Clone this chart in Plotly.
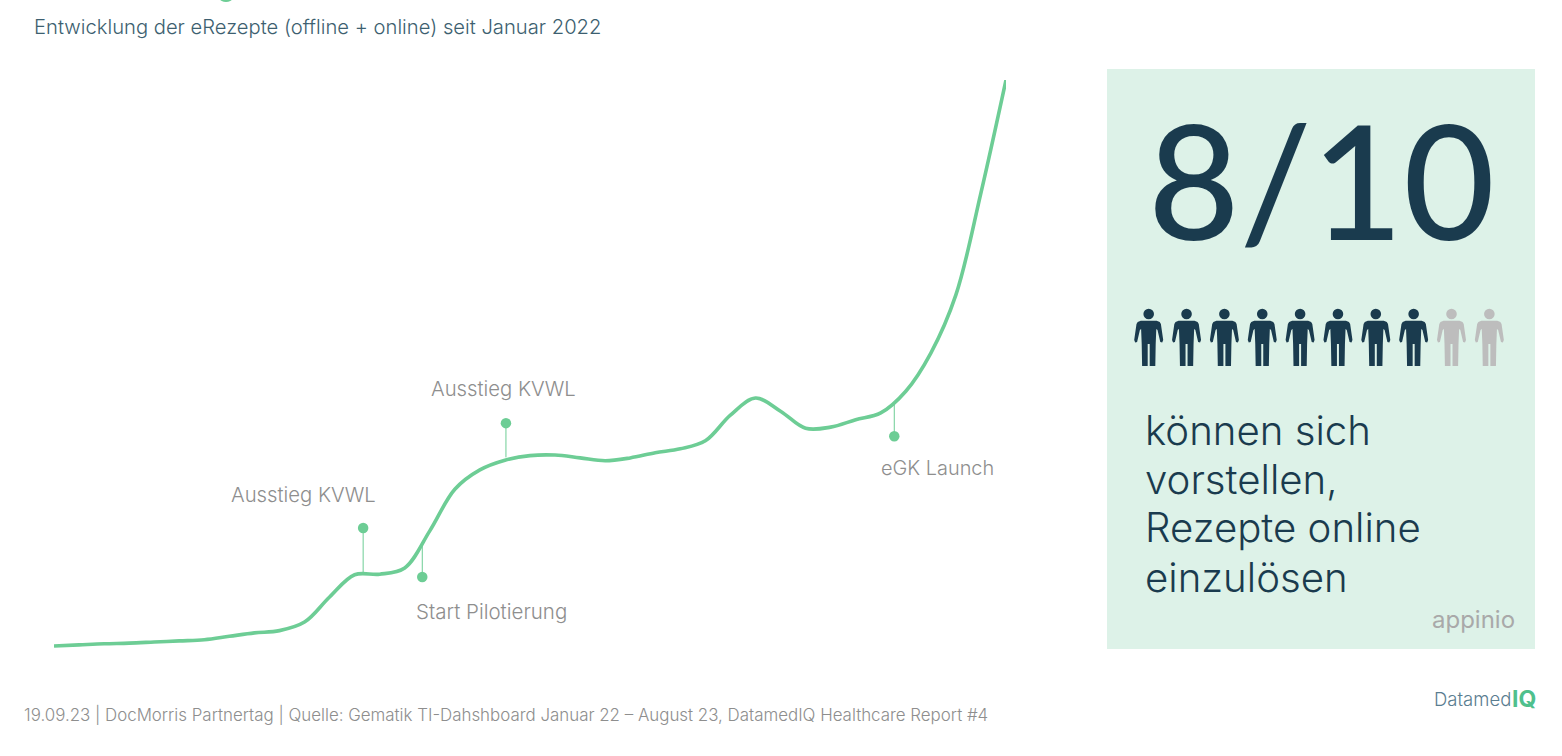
import plotly.graph_objects as go

W, H = 1562, 756
# Values: half-month steps since Jan 2022, indexed eRezept volume (peak = 100)
months = [0, 0.5, 1, 1.5, 2, 2.5, 3, 3.5, 4, 4.5, 5, 5.5, 6, 6.5, 7, 7.5, 8, 8.5, 9, 9.5, 10, 10.5, 11, 11.5, 12, 12.5,
          13, 13.5, 14, 14.5, 15, 15.5, 16, 16.5, 17, 17.5, 18, 18.5, 19]
values = [0.7, 0.9, 1.1, 1.2, 1.4, 1.6, 1.8, 2.4, 3.0, 3.4, 4.9, 9.3, 13.2, 13.3, 14.4, 20.9, 28.2, 31.6, 33.3, 34.1,
          34.2, 33.7, 33.2, 33.7, 34.6, 35.3, 36.7, 41.2, 44.2, 41.9, 38.9, 39.1, 40.4, 41.6, 45.4, 52.1, 62.3, 80.2, 100]
milestone_months = [6.17, 7.35, 9.02, 16.77]
milestone_curve = [13.5, 18.4, 33.8, 43.4]
milestone_dots = [21.4, 12.8, 39.8, 37.5]

LINE = "#6DCD95"
DARK = "#1A3B4E"
GREY = "#8E8E8E"
FONT = "Inter"


def px(x, y):
    return x / W, 1 - y / H


fig = go.Figure()
for m, a, b in zip(milestone_months, milestone_curve, milestone_dots):
    fig.add_trace(go.Scatter(x=[m, m], y=[a, b], mode="lines", line=dict(color=LINE, width=1), hoverinfo="skip"))
fig.add_trace(go.Scatter(x=months, y=values, mode="lines", line=dict(color=LINE, width=3.6, shape="spline", smoothing=1.0), cliponaxis=False))
fig.add_trace(go.Scatter(x=milestone_months, y=milestone_dots, mode="markers", marker=dict(color=LINE, size=10.5), cliponaxis=False))

shapes = []
x0, y0 = px(1107, 649)
x1, y1 = px(1535, 69)
shapes.append(dict(type="rect", xref="paper", yref="paper", x0=x0, y0=y0, x1=x1, y1=y1, fillcolor="#DDF2E8", line_width=0, layer="below"))
xa, ya = px(220, -4)
xb, yb = px(232, 2)
shapes.append(dict(type="circle", xref="paper", yref="paper", x0=xa, y0=ya, x1=xb, y1=yb, fillcolor=LINE, line_width=0))


def person(cx, top, color):
    half = [(0, 12.7), (8, 12.7), (11, 14), (12.2, 16), (14.5, 32), (13.5, 34.5), (11.6, 34), (8.8, 22), (7.6, 21), (7, 36), (6.6, 58),
            (1, 58), (1, 36), (0, 36)]
    pts = half + [(-a, b) for a, b in reversed(half)]
    path = ""
    for i, (a, b) in enumerate(pts):
        X, Y = px(cx + a, top + b)
        path += ("M" if i == 0 else "L") + f"{X:.5f},{Y:.5f} "
    shapes.append(dict(type="path", xref="paper", yref="paper", path=path + "Z", fillcolor=color, line_width=0))
    xa, ya = px(cx - 5.3, top + 0.7)
    xb, yb = px(cx + 5.3, top + 11.3)
    shapes.append(dict(type="circle", xref="paper", yref="paper", x0=xa, y0=ya, x1=xb, y1=yb, fillcolor=color, line_width=0))


for i in range(10):
    person(1148.7 + 37.85 * i, 308, DARK if i < 8 else "#BDBDBD")

annotations = []


def text(x, y, s, size, color, anchor="left", weight=300, font=FONT):
    X, Y = px(x, y)
    annotations.append(dict(xref="paper", yref="paper", x=X, y=Y, text=s, showarrow=False, xanchor=anchor, yanchor="middle",
                            font=dict(size=size, color=color, family=font, weight=weight)))


text(32, 27, "Entwicklung der eRezepte (offline + online) seit Januar 2022", 20.2, "#3D5F70")
text(303, 494, "Ausstieg KVWL", 20.3, GREY, "center")
text(503, 388, "Ausstieg KVWL", 20.3, GREY, "center")
text(491.5, 611, "Start Pilotierung", 20.5, GREY, "center")
text(937.5, 468, "eGK Launch", 19.9, GREY, "center")
text(1321, 179, "8/10", 158, DARK, "center", 500, "Lato")
text(1143, 430, "können sich", 40.2, DARK)
text(1143, 479, "vorstellen,", 40.2, DARK)
text(1143, 527, "Rezepte online", 40.2, DARK)
text(1143, 577, "einzulösen", 40.2, DARK)
text(1473, 619, "appinio", 24, "#A9A9A9", "center", 400)
text(22, 714, "19.09.23 | DocMorris Partnertag | Quelle: Gematik TI-Dahshboard Januar 22 – August 23, DatamedIQ Healthcare Report #4", 16.9, GREY)
text(1432, 699, "Datamed", 18.5, "#5A7D90")
text(1510, 699, "<b>IQ</b>", 23, "#4FC08D", "left", 700)

fig.update_layout(
    width=W, height=H, margin=dict(l=0, r=0, t=0, b=0), showlegend=False,
    paper_bgcolor="white", plot_bgcolor="rgba(0,0,0,0)",
    xaxis=dict(domain=[54 / W, 1006 / W], range=[0, 19], visible=False),
    yaxis=dict(domain=[(H - 650) / H, (H - 80) / H], range=[0, 100], visible=False),
    shapes=shapes, annotations=annotations,
)
fig.write_html("out.html", post_script="document.body.style.margin='0';", config=dict(displayModeBar=False))
